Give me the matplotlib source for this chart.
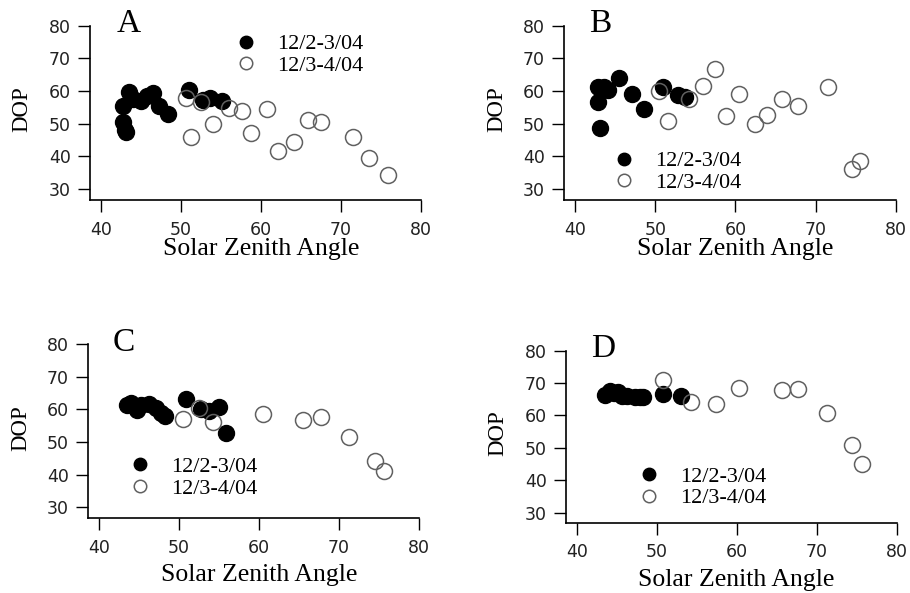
import matplotlib
matplotlib.use("Agg")
import matplotlib.pyplot as plt

# panel A
a_x_dec2 = [42.8, 42.8, 43.0, 43.2, 43.5, 44.0, 45.0, 45.8, 46.5, 47.3, 48.4, 51.0, 52.8, 53.7, 55.1]
a_y_dec2 = [55.4, 50.6, 48.2, 47.3, 59.8, 57.5, 57.0, 58.5, 59.5, 55.5, 53.0, 60.2, 57.2, 57.8, 56.9]
a_x_dec3 = [50.6, 51.3, 52.5, 54.0, 56.0, 57.7, 58.8, 60.75, 62.1, 64.1, 65.9, 67.5, 71.5, 73.5, 75.9]
a_y_dec3 = [58.0, 45.8, 56.7, 49.9, 54.7, 53.9, 47.2, 54.5, 41.6, 44.5, 51.1, 50.6, 45.8, 39.4, 34.3]

# panel B
b_x_dec2 = [42.9, 42.9, 43.1, 43.6, 44.1, 45.5, 47.1, 48.6, 51.0, 52.9, 53.7]
b_y_dec2 = [61.1, 56.7, 48.8, 61.1, 60.3, 63.9, 59.0, 54.5, 61.1, 58.8, 58.3]
b_x_dec3 = [50.5, 51.6, 54.2, 56.0, 57.4, 58.8, 60.5, 62.5, 64.0, 65.8, 67.8, 71.5, 74.5, 75.6]
b_y_dec3 = [60.1, 50.9, 57.6, 61.5, 66.7, 52.3, 59.0, 49.9, 52.7, 57.4, 55.4, 61.1, 36.0, 38.7]

# panel C
c_x_dec2 = [43.5, 44.0, 44.8, 45.3, 46.25, 47.1, 47.7, 48.3, 50.9, 52.8, 53.7, 55.0, 55.9]
c_y_dec2 = [61.4, 61.9, 59.9, 61.4, 61.6, 60.4, 59.0, 58.0, 63.2, 60.2, 59.6, 60.7, 52.7]
c_x_dec3 = [50.5, 52.5, 54.3, 60.5, 65.5, 67.8, 71.3, 74.5, 75.6]
c_y_dec3 = [57.1, 60.4, 56.3, 58.5, 56.8, 57.6, 51.5, 44.3, 41.2]

# panel D
d_x_dec2 = [43.5, 44.1, 44.7, 45.2, 45.6, 46.25, 47.3, 47.9, 48.3, 50.8, 53.0]
d_y_dec2 = [66.3, 67.7, 66.8, 67.3, 66.0, 66.0, 65.6, 65.8, 65.6, 66.6, 66.1]
d_x_dec3 = [50.8, 54.3, 57.4, 60.3, 65.6, 67.6, 71.3, 74.4, 75.6]
d_y_dec3 = [70.9, 64.3, 63.4, 68.6, 67.9, 68.1, 60.9, 50.9, 45.0]

labels = ["12/2-3/04", "12/3-4/04"]
panel_names = ["A", "B", "C", "D"]

serif = "Liberation Serif"

fig = plt.figure(figsize=(9.1, 5.93), dpi=100)

# axes rectangles (left, bottom, width, height) in figure fraction
rects = [
    [0.0989, 0.6627, 0.3637, 0.2939],
    [0.6201, 0.6627, 0.3642, 0.2939],
    [0.0970, 0.1260, 0.3634, 0.2934],
    [0.6220, 0.1186, 0.3634, 0.2900],
]
ybottoms = [26.6, 26.6, 26.6, 26.9]
legend_pos = [(0.445, 0.832), (0.154, 0.161), (0.130, 0.233), (0.224, 0.206)]
xlabel_y = [-0.281, -0.281, -0.328, -0.331]
label_x = [0.116, 0.108, 0.108, 0.112]

data = [
    (a_x_dec2, a_y_dec2, a_x_dec3, a_y_dec3),
    (b_x_dec2, b_y_dec2, b_x_dec3, b_y_dec3),
    (c_x_dec2, c_y_dec2, c_x_dec3, c_y_dec3),
    (d_x_dec2, d_y_dec2, d_x_dec3, d_y_dec3),
]

for i in range(4):
    ax = fig.add_axes(rects[i])
    x2, y2, x3, y3 = data[i]
    ax.plot(x2, y2, "o", ms=11.5, mfc="black", mec="black", mew=1.0, ls="none", label=labels[0])
    ax.plot(x3, y3, "o", ms=11.5, mfc="none", mec="#606060", mew=1.1, ls="none", label=labels[1])

    ax.set_xlim(38.66, 80)
    ax.set_ylim(ybottoms[i], 80)
    ax.set_xticks([40, 50, 60, 70, 80])
    ax.set_yticks([30, 40, 50, 60, 70, 80])
    ax.spines["top"].set_visible(False)
    ax.spines["right"].set_visible(False)
    ax.spines["left"].set_linewidth(1.2)
    ax.spines["bottom"].set_linewidth(1.2)
    ax.tick_params(axis="both", direction="out", length=8.8, width=1.0, labelsize=12.5,
                   labelcolor="#222222")
    ax.tick_params(axis="x", pad=6)
    ax.tick_params(axis="y", pad=5)
    for lab in ax.get_xticklabels() + ax.get_yticklabels():
        lab.set_fontfamily("DejaVu Sans")

    ax.set_xlabel("Solar Zenith Angle", fontsize=18.5, fontfamily=serif)
    ax.xaxis.label.set_va("center")
    ax.xaxis.set_label_coords(0.516, xlabel_y[i])
    ax.set_ylabel("DOP", fontsize=16.5, fontfamily=serif)
    ax.yaxis.label.set_va("center")
    ax.yaxis.label.set_ha("center")
    ax.yaxis.set_label_coords(-0.205, 0.52)

    ax.text(label_x[i], 0.962, panel_names[i], transform=ax.transAxes, fontsize=24,
            fontfamily=serif, ha="center", va="baseline")

    ax.legend(loc="center left", bbox_to_anchor=legend_pos[i], frameon=False,
              prop={"family": serif, "size": 16}, handlelength=0.8, markerscale=0.78,
              handletextpad=1.0, borderpad=0, borderaxespad=0, labelspacing=0.05)

fig.savefig("out.png", dpi=100)
